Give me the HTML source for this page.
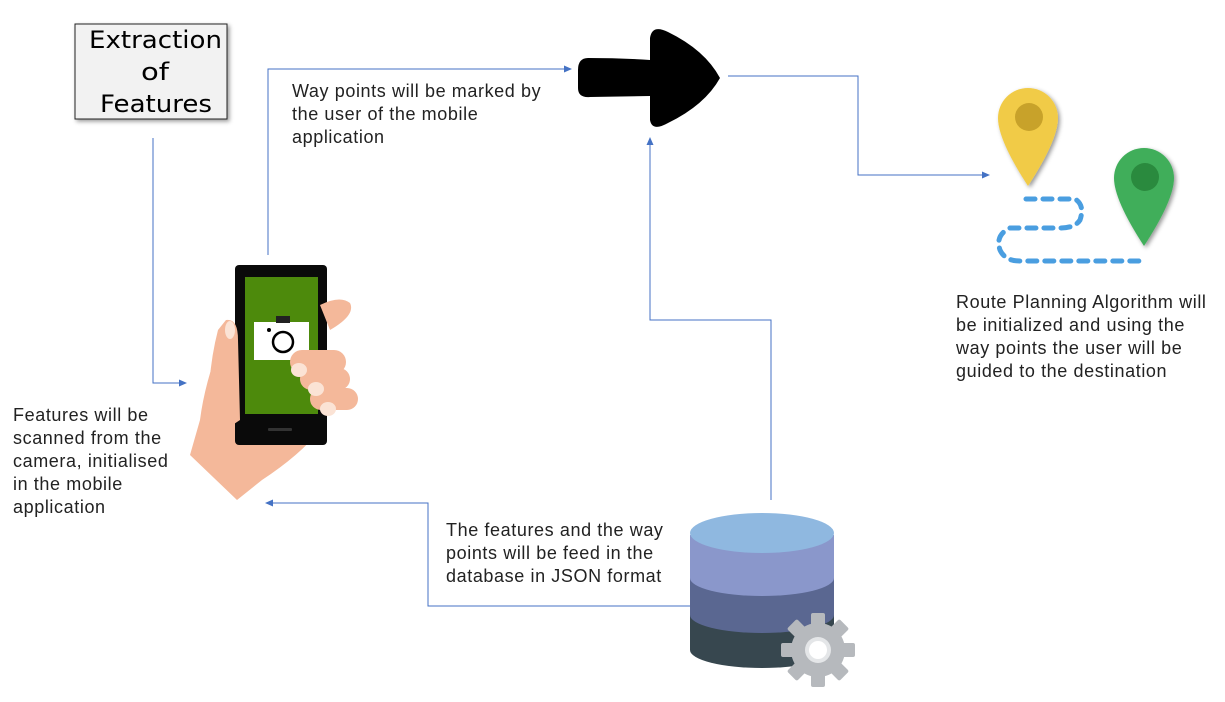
<!DOCTYPE html>
<html><head><meta charset="utf-8"><style>
html,body{margin:0;padding:0;background:#fff;width:1225px;height:702px;overflow:hidden}
.t{position:absolute;font-family:"Liberation Sans",sans-serif;font-size:18px;letter-spacing:0.6px;line-height:23px;color:#222;white-space:nowrap}
</style></head><body>
<svg width="1225" height="702" style="position:absolute;left:0;top:0">
<defs>
<marker id="a" markerWidth="8" markerHeight="8" refX="7" refY="4" orient="auto" markerUnits="userSpaceOnUse"><path d="M0,0.5 L8,4 L0,7.5z" fill="#4472c4"/></marker>
<filter id="s"><feDropShadow dx="2" dy="2" stdDeviation="2" flood-opacity="0.4"/></filter>
</defs>
<g fill="none" stroke="#4472c4" stroke-width="1">
<path d="M153,138 V383 H186" marker-end="url(#a)"/>
<path d="M268,255 V69 H571" marker-end="url(#a)"/>
<path d="M728,76 H858 V175 H989" marker-end="url(#a)"/>
<path d="M771,500 V320 H650 V138" marker-end="url(#a)"/>
<path d="M690,606 H428 V503 H266" marker-end="url(#a)"/>
</g>
<!-- Box -->
<rect x="75" y="24" width="152" height="95" fill="#f2f2f2" stroke="#222" stroke-width="1" filter="url(#s)"/>
<text font-family="DejaVu Sans,sans-serif" font-size="24" fill="#000"><tspan x="89" y="48" textLength="133" lengthAdjust="spacingAndGlyphs">Extraction</tspan><tspan x="141" y="80" textLength="28" lengthAdjust="spacingAndGlyphs">of</tspan><tspan x="100" y="112" textLength="112" lengthAdjust="spacingAndGlyphs">Features</tspan></text>
<!-- big arrow -->
<path d="M588,58 Q578,58 578,70 L578,88 Q578,98 590,97 L650,96 L650,120 Q652,132 668,123 Q705,105 720,78 Q705,50 668,32 Q652,24 650,38 L650,60 Q620,58 588,58z" fill="#000"/>
<!-- hand back -->
<path d="M225,330 Q205,380 200,420 L190,455 L237,500 L262,480 Q300,455 320,430 L300,400 L250,420z" fill="#f4b89a"/>
<!-- phone -->
<rect x="235" y="265" width="92" height="180" rx="4" fill="#0a0a0a"/>
<rect x="245" y="277" width="73" height="137" fill="#4d8a0c"/>
<rect x="268" y="428" width="24" height="3" rx="1" fill="#333"/>
<rect x="254" y="322" width="55" height="38" fill="#fff"/>
<rect x="276" y="316" width="14" height="7" fill="#222"/>
<circle cx="283" cy="342" r="10" fill="none" stroke="#000" stroke-width="2.5"/>
<circle cx="269" cy="330" r="2" fill="#000"/>
<!-- fingers -->
<path d="M320,305 Q340,295 350,303 Q356,315 330,330z" fill="#f4b89a"/>
<g fill="#f4b89a">
<rect x="290" y="350" width="56" height="24" rx="12"/>
<rect x="300" y="368" width="50" height="22" rx="11"/>
<rect x="310" y="388" width="48" height="22" rx="11"/>
<path d="M226,320 Q238,318 238,340 L240,420 L210,440 Q205,380 218,330z"/>
</g>
<g fill="#fbe3d5"><ellipse cx="299" cy="370" rx="8" ry="7"/><ellipse cx="316" cy="389" rx="8" ry="7"/><ellipse cx="328" cy="409" rx="8" ry="7"/><ellipse cx="230" cy="330" rx="5" ry="9"/></g>
<!-- database -->
<path d="M690,535 V650 A72,18 0 0 0 834,650 V535z" fill="#37474f"/>
<path d="M690,535 V615 A72,18 0 0 0 834,615 V535z" fill="#5a6791"/>
<path d="M690,535 V578 A72,18 0 0 0 834,578 V535z" fill="#8a97cb"/>
<ellipse cx="762" cy="533" rx="72" ry="20" fill="#8fb8e0"/>
<g transform="translate(818,650)">
<g fill="#b6b9bd">
<circle r="27"/>
<g id="tt"><rect x="-7" y="-37" width="14" height="14" rx="2"/></g>
<use href="#tt" transform="rotate(45)"/><use href="#tt" transform="rotate(90)"/><use href="#tt" transform="rotate(135)"/><use href="#tt" transform="rotate(180)"/><use href="#tt" transform="rotate(225)"/><use href="#tt" transform="rotate(270)"/><use href="#tt" transform="rotate(315)"/>
</g>
<circle r="13" fill="#e4e6e8"/><circle r="9" fill="#fff"/>
</g>
<!-- pins -->
<path d="M1028,88 A30,30 0 0 1 1058,118 Q1058,140 1028,186 Q998,140 998,118 A30,30 0 0 1 1028,88z" fill="#f1cb47" filter="url(#s)"/>
<circle cx="1029" cy="117" r="14" fill="#c8a22a"/>
<path d="M1144,148 A30,30 0 0 1 1174,178 Q1174,200 1144,246 Q1114,200 1114,178 A30,30 0 0 1 1144,148z" fill="#3fae5a" filter="url(#s)"/>
<circle cx="1145" cy="177" r="14" fill="#2a8a3e"/>
<path d="M1026,199 H1075 Q1085,205 1080,220 Q1075,228 1060,228 H1010 Q995,235 1000,250 Q1005,261 1020,261 H1145" fill="none" stroke="#4a9ee0" stroke-width="5" stroke-linecap="round" stroke-dasharray="9,8"/>
</svg>
<div class="t" style="left:292px;top:80px">Way points will be marked by<br>the user of the mobile<br>application</div>
<div class="t" style="left:13px;top:404px">Features will be<br>scanned from the<br>camera, initialised<br>in the mobile<br>application</div>
<div class="t" style="left:446px;top:519px">The features and the way<br>points will be feed in the<br>database in JSON format</div>
<div class="t" style="left:956px;top:291px">Route Planning Algorithm will<br>be initialized and using the<br>way points the user will be<br>guided to the destination</div>
</body></html>
